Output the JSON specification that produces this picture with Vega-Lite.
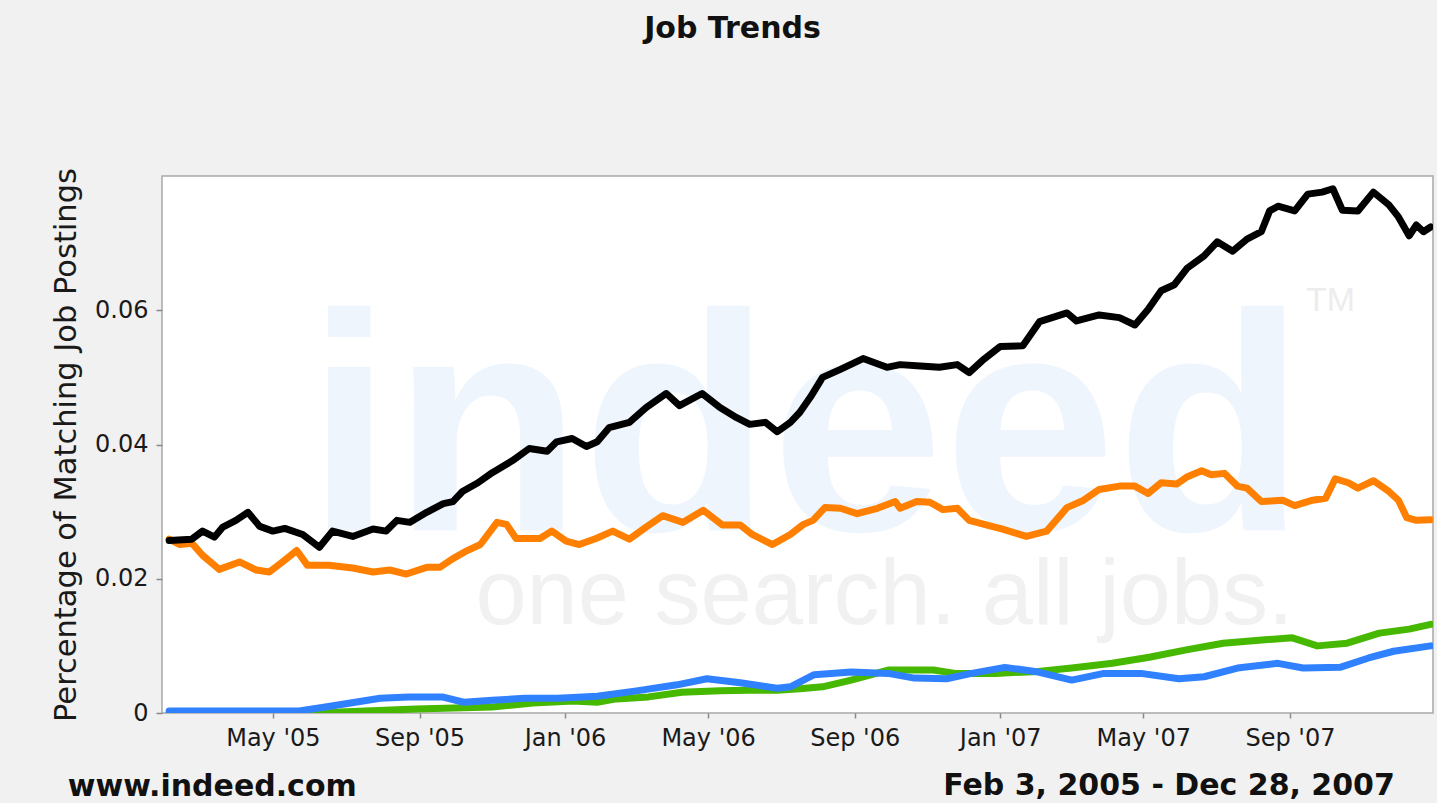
{
  "$schema": "https://vega.github.io/schema/vega-lite/v6.json",
  "autosize": {"type": "none"},
  "width": 1271,
  "height": 537,
  "padding": {"left": 162, "top": 176, "right": 4, "bottom": 90},
  "background": "#f1f1f1",
  "title": {"text": "Job Trends", "anchor": "middle", "frame": "group", "dx": -65, "offset": 100, "baseline": "alphabetic", "fontSize": 30, "fontWeight": "bold", "font": "DejaVu Sans", "color": "#111111"},
  "config": {
    "view": {"fill": "white", "stroke": "#a8a8a8", "strokeWidth": 1.5},
    "axis": {"grid": false, "domain": false, "tickColor": "#8a8a8a", "tickWidth": 1.5, "labelFont": "DejaVu Sans", "labelFontSize": 24, "labelColor": "#1a1a1a", "titleFont": "DejaVu Sans", "titleColor": "#1a1a1a"}
  },
  "data": {"values": [
    {"series":"s1","date":"2005-02-03","value":0.0},
    {"series":"s1","date":"2005-06-01","value":0.0},
    {"series":"s1","date":"2005-06-21","value":0.0001},
    {"series":"s1","date":"2005-08-29","value":0.0006},
    {"series":"s1","date":"2005-11-01","value":0.0009},
    {"series":"s1","date":"2005-12-05","value":0.0015},
    {"series":"s1","date":"2006-01-08","value":0.0018},
    {"series":"s1","date":"2006-01-28","value":0.0016},
    {"series":"s1","date":"2006-02-13","value":0.0021},
    {"series":"s1","date":"2006-03-12","value":0.0024},
    {"series":"s1","date":"2006-04-09","value":0.0031},
    {"series":"s1","date":"2006-05-11","value":0.0033},
    {"series":"s1","date":"2006-06-04","value":0.0034},
    {"series":"s1","date":"2006-06-28","value":0.0034},
    {"series":"s1","date":"2006-07-17","value":0.0036},
    {"series":"s1","date":"2006-08-05","value":0.0039},
    {"series":"s1","date":"2006-08-29","value":0.0049},
    {"series":"s1","date":"2006-09-29","value":0.0064},
    {"series":"s1","date":"2006-11-06","value":0.0064},
    {"series":"s1","date":"2006-11-24","value":0.0059},
    {"series":"s1","date":"2006-12-28","value":0.0059},
    {"series":"s1","date":"2007-02-02","value":0.0062},
    {"series":"s1","date":"2007-03-02","value":0.0067},
    {"series":"s1","date":"2007-04-05","value":0.0074},
    {"series":"s1","date":"2007-05-06","value":0.0083},
    {"series":"s1","date":"2007-06-06","value":0.0094},
    {"series":"s1","date":"2007-07-07","value":0.0104},
    {"series":"s1","date":"2007-08-11","value":0.0109},
    {"series":"s1","date":"2007-09-03","value":0.0112},
    {"series":"s1","date":"2007-09-24","value":0.0100},
    {"series":"s1","date":"2007-10-19","value":0.0104},
    {"series":"s1","date":"2007-11-15","value":0.0119},
    {"series":"s1","date":"2007-12-10","value":0.0125},
    {"series":"s1","date":"2007-12-28","value":0.0132},
    {"series":"s2","date":"2005-02-03","value":0.0003},
    {"series":"s2","date":"2005-05-23","value":0.0003},
    {"series":"s2","date":"2005-06-14","value":0.0009},
    {"series":"s2","date":"2005-07-09","value":0.0016},
    {"series":"s2","date":"2005-07-30","value":0.0022},
    {"series":"s2","date":"2005-08-23","value":0.0024},
    {"series":"s2","date":"2005-09-20","value":0.0024},
    {"series":"s2","date":"2005-10-08","value":0.0016},
    {"series":"s2","date":"2005-11-01","value":0.0019},
    {"series":"s2","date":"2005-11-28","value":0.0022},
    {"series":"s2","date":"2005-12-26","value":0.0022},
    {"series":"s2","date":"2006-01-28","value":0.0025},
    {"series":"s2","date":"2006-03-02","value":0.0033},
    {"series":"s2","date":"2006-04-05","value":0.0042},
    {"series":"s2","date":"2006-04-30","value":0.0051},
    {"series":"s2","date":"2006-05-28","value":0.0045},
    {"series":"s2","date":"2006-06-28","value":0.0037},
    {"series":"s2","date":"2006-07-09","value":0.0039},
    {"series":"s2","date":"2006-07-29","value":0.0057},
    {"series":"s2","date":"2006-08-29","value":0.0061},
    {"series":"s2","date":"2006-09-29","value":0.0059},
    {"series":"s2","date":"2006-10-21","value":0.0052},
    {"series":"s2","date":"2006-11-17","value":0.0051},
    {"series":"s2","date":"2006-12-08","value":0.0059},
    {"series":"s2","date":"2007-01-05","value":0.0068},
    {"series":"s2","date":"2007-02-02","value":0.0061},
    {"series":"s2","date":"2007-03-02","value":0.0049},
    {"series":"s2","date":"2007-03-29","value":0.0059},
    {"series":"s2","date":"2007-04-29","value":0.0059},
    {"series":"s2","date":"2007-05-31","value":0.0051},
    {"series":"s2","date":"2007-06-21","value":0.0054},
    {"series":"s2","date":"2007-07-19","value":0.0067},
    {"series":"s2","date":"2007-08-22","value":0.0074},
    {"series":"s2","date":"2007-09-12","value":0.0067},
    {"series":"s2","date":"2007-10-13","value":0.0068},
    {"series":"s2","date":"2007-11-06","value":0.0082},
    {"series":"s2","date":"2007-11-27","value":0.0092},
    {"series":"s2","date":"2007-12-28","value":0.0100},
    {"series":"s3","date":"2005-02-03","value":0.0259},
    {"series":"s3","date":"2005-02-12","value":0.0251},
    {"series":"s3","date":"2005-02-22","value":0.0253},
    {"series":"s3","date":"2005-03-03","value":0.0235},
    {"series":"s3","date":"2005-03-17","value":0.0214},
    {"series":"s3","date":"2005-04-03","value":0.0225},
    {"series":"s3","date":"2005-04-17","value":0.0213},
    {"series":"s3","date":"2005-04-28","value":0.0210},
    {"series":"s3","date":"2005-05-09","value":0.0225},
    {"series":"s3","date":"2005-05-21","value":0.0242},
    {"series":"s3","date":"2005-05-30","value":0.0220},
    {"series":"s3","date":"2005-06-17","value":0.0220},
    {"series":"s3","date":"2005-07-07","value":0.0216},
    {"series":"s3","date":"2005-07-24","value":0.0210},
    {"series":"s3","date":"2005-08-07","value":0.0213},
    {"series":"s3","date":"2005-08-21","value":0.0207},
    {"series":"s3","date":"2005-09-07","value":0.0217},
    {"series":"s3","date":"2005-09-18","value":0.0217},
    {"series":"s3","date":"2005-09-29","value":0.0230},
    {"series":"s3","date":"2005-10-11","value":0.0242},
    {"series":"s3","date":"2005-10-22","value":0.0251},
    {"series":"s3","date":"2005-11-05","value":0.0284},
    {"series":"s3","date":"2005-11-13","value":0.0281},
    {"series":"s3","date":"2005-11-21","value":0.0260},
    {"series":"s3","date":"2005-12-11","value":0.0260},
    {"series":"s3","date":"2005-12-21","value":0.0271},
    {"series":"s3","date":"2006-01-02","value":0.0256},
    {"series":"s3","date":"2006-01-13","value":0.0251},
    {"series":"s3","date":"2006-01-27","value":0.0260},
    {"series":"s3","date":"2006-02-10","value":0.0271},
    {"series":"s3","date":"2006-02-24","value":0.0259},
    {"series":"s3","date":"2006-03-10","value":0.0277},
    {"series":"s3","date":"2006-03-24","value":0.0294},
    {"series":"s3","date":"2006-04-10","value":0.0284},
    {"series":"s3","date":"2006-04-27","value":0.0302},
    {"series":"s3","date":"2006-05-13","value":0.0280},
    {"series":"s3","date":"2006-05-28","value":0.0280},
    {"series":"s3","date":"2006-06-07","value":0.0266},
    {"series":"s3","date":"2006-06-24","value":0.0251},
    {"series":"s3","date":"2006-07-09","value":0.0266},
    {"series":"s3","date":"2006-07-20","value":0.0281},
    {"series":"s3","date":"2006-07-28","value":0.0287},
    {"series":"s3","date":"2006-08-07","value":0.0306},
    {"series":"s3","date":"2006-08-20","value":0.0305},
    {"series":"s3","date":"2006-09-03","value":0.0297},
    {"series":"s3","date":"2006-09-20","value":0.0305},
    {"series":"s3","date":"2006-10-05","value":0.0315},
    {"series":"s3","date":"2006-10-09","value":0.0305},
    {"series":"s3","date":"2006-10-23","value":0.0315},
    {"series":"s3","date":"2006-11-03","value":0.0314},
    {"series":"s3","date":"2006-11-14","value":0.0303},
    {"series":"s3","date":"2006-11-26","value":0.0305},
    {"series":"s3","date":"2006-12-06","value":0.0287},
    {"series":"s3","date":"2006-12-21","value":0.0280},
    {"series":"s3","date":"2007-01-03","value":0.0274},
    {"series":"s3","date":"2007-01-23","value":0.0263},
    {"series":"s3","date":"2007-02-09","value":0.0271},
    {"series":"s3","date":"2007-02-26","value":0.0306},
    {"series":"s3","date":"2007-03-12","value":0.0317},
    {"series":"s3","date":"2007-03-25","value":0.0333},
    {"series":"s3","date":"2007-04-11","value":0.0338},
    {"series":"s3","date":"2007-04-24","value":0.0338},
    {"series":"s3","date":"2007-05-05","value":0.0327},
    {"series":"s3","date":"2007-05-16","value":0.0343},
    {"series":"s3","date":"2007-05-29","value":0.0341},
    {"series":"s3","date":"2007-06-07","value":0.0352},
    {"series":"s3","date":"2007-06-19","value":0.0361},
    {"series":"s3","date":"2007-06-27","value":0.0355},
    {"series":"s3","date":"2007-07-08","value":0.0357},
    {"series":"s3","date":"2007-07-19","value":0.0338},
    {"series":"s3","date":"2007-07-27","value":0.0335},
    {"series":"s3","date":"2007-08-08","value":0.0315},
    {"series":"s3","date":"2007-08-26","value":0.0317},
    {"series":"s3","date":"2007-09-05","value":0.0309},
    {"series":"s3","date":"2007-09-20","value":0.0317},
    {"series":"s3","date":"2007-10-01","value":0.0320},
    {"series":"s3","date":"2007-10-09","value":0.0349},
    {"series":"s3","date":"2007-10-20","value":0.0343},
    {"series":"s3","date":"2007-10-28","value":0.0335},
    {"series":"s3","date":"2007-11-10","value":0.0346},
    {"series":"s3","date":"2007-11-23","value":0.0330},
    {"series":"s3","date":"2007-12-01","value":0.0317},
    {"series":"s3","date":"2007-12-08","value":0.0291},
    {"series":"s3","date":"2007-12-16","value":0.0287},
    {"series":"s3","date":"2007-12-28","value":0.0288},
    {"series":"s4","date":"2005-02-03","value":0.0257},
    {"series":"s4","date":"2005-02-22","value":0.0259},
    {"series":"s4","date":"2005-03-03","value":0.0271},
    {"series":"s4","date":"2005-03-13","value":0.0262},
    {"series":"s4","date":"2005-03-20","value":0.0277},
    {"series":"s4","date":"2005-03-31","value":0.0287},
    {"series":"s4","date":"2005-04-10","value":0.0299},
    {"series":"s4","date":"2005-04-20","value":0.0278},
    {"series":"s4","date":"2005-05-01","value":0.0271},
    {"series":"s4","date":"2005-05-11","value":0.0275},
    {"series":"s4","date":"2005-05-26","value":0.0266},
    {"series":"s4","date":"2005-06-09","value":0.0247},
    {"series":"s4","date":"2005-06-20","value":0.0271},
    {"series":"s4","date":"2005-07-07","value":0.0263},
    {"series":"s4","date":"2005-07-24","value":0.0274},
    {"series":"s4","date":"2005-08-04","value":0.0271},
    {"series":"s4","date":"2005-08-13","value":0.0287},
    {"series":"s4","date":"2005-08-24","value":0.0284},
    {"series":"s4","date":"2005-09-07","value":0.0299},
    {"series":"s4","date":"2005-09-21","value":0.0312},
    {"series":"s4","date":"2005-09-29","value":0.0315},
    {"series":"s4","date":"2005-10-07","value":0.0330},
    {"series":"s4","date":"2005-10-20","value":0.0343},
    {"series":"s4","date":"2005-11-01","value":0.0358},
    {"series":"s4","date":"2005-11-18","value":0.0376},
    {"series":"s4","date":"2005-12-02","value":0.0394},
    {"series":"s4","date":"2005-12-17","value":0.0390},
    {"series":"s4","date":"2005-12-25","value":0.0404},
    {"series":"s4","date":"2006-01-07","value":0.0409},
    {"series":"s4","date":"2006-01-19","value":0.0397},
    {"series":"s4","date":"2006-01-28","value":0.0404},
    {"series":"s4","date":"2006-02-07","value":0.0425},
    {"series":"s4","date":"2006-02-24","value":0.0433},
    {"series":"s4","date":"2006-03-10","value":0.0455},
    {"series":"s4","date":"2006-03-27","value":0.0476},
    {"series":"s4","date":"2006-04-07","value":0.0458},
    {"series":"s4","date":"2006-04-26","value":0.0476},
    {"series":"s4","date":"2006-05-11","value":0.0455},
    {"series":"s4","date":"2006-05-25","value":0.0440},
    {"series":"s4","date":"2006-06-05","value":0.0430},
    {"series":"s4","date":"2006-06-18","value":0.0433},
    {"series":"s4","date":"2006-06-28","value":0.0419},
    {"series":"s4","date":"2006-07-09","value":0.0433},
    {"series":"s4","date":"2006-07-17","value":0.0448},
    {"series":"s4","date":"2006-07-26","value":0.0471},
    {"series":"s4","date":"2006-08-05","value":0.0500},
    {"series":"s4","date":"2006-08-20","value":0.0512},
    {"series":"s4","date":"2006-09-08","value":0.0528},
    {"series":"s4","date":"2006-09-28","value":0.0515},
    {"series":"s4","date":"2006-10-09","value":0.0519},
    {"series":"s4","date":"2006-10-26","value":0.0517},
    {"series":"s4","date":"2006-11-11","value":0.0515},
    {"series":"s4","date":"2006-11-26","value":0.0519},
    {"series":"s4","date":"2006-12-06","value":0.0507},
    {"series":"s4","date":"2006-12-17","value":0.0525},
    {"series":"s4","date":"2007-01-01","value":0.0546},
    {"series":"s4","date":"2007-01-20","value":0.0547},
    {"series":"s4","date":"2007-02-03","value":0.0583},
    {"series":"s4","date":"2007-02-26","value":0.0596},
    {"series":"s4","date":"2007-03-06","value":0.0584},
    {"series":"s4","date":"2007-03-25","value":0.0593},
    {"series":"s4","date":"2007-04-11","value":0.0589},
    {"series":"s4","date":"2007-04-24","value":0.0578},
    {"series":"s4","date":"2007-05-05","value":0.0601},
    {"series":"s4","date":"2007-05-16","value":0.0629},
    {"series":"s4","date":"2007-05-27","value":0.0638},
    {"series":"s4","date":"2007-06-07","value":0.0663},
    {"series":"s4","date":"2007-06-21","value":0.0681},
    {"series":"s4","date":"2007-07-02","value":0.0702},
    {"series":"s4","date":"2007-07-15","value":0.0688},
    {"series":"s4","date":"2007-07-27","value":0.0706},
    {"series":"s4","date":"2007-08-08","value":0.0717},
    {"series":"s4","date":"2007-08-15","value":0.0748},
    {"series":"s4","date":"2007-08-22","value":0.0755},
    {"series":"s4","date":"2007-09-05","value":0.0748},
    {"series":"s4","date":"2007-09-16","value":0.0773},
    {"series":"s4","date":"2007-09-28","value":0.0776},
    {"series":"s4","date":"2007-10-07","value":0.0781},
    {"series":"s4","date":"2007-10-15","value":0.0749},
    {"series":"s4","date":"2007-10-28","value":0.0748},
    {"series":"s4","date":"2007-11-10","value":0.0776},
    {"series":"s4","date":"2007-11-23","value":0.0757},
    {"series":"s4","date":"2007-12-01","value":0.0739},
    {"series":"s4","date":"2007-12-10","value":0.0711},
    {"series":"s4","date":"2007-12-16","value":0.0727},
    {"series":"s4","date":"2007-12-22","value":0.0717},
    {"series":"s4","date":"2007-12-28","value":0.0724}
  ]},
  "layer": [
    {
      "data": {"values": [{}]},
      "mark": {"type": "text", "text": "indeed", "font": "Liberation Sans", "fontWeight": "bold", "fontSize": 310, "color": "#eff5fd", "align": "center", "baseline": "alphabetic"},
      "encoding": {
        "x": {"datum": {"year": 2006, "month": 7, "date": 22, "utc": true}, "type": "temporal", "scale": {"type": "utc", "domain": [{"year": 2005, "month": 1, "date": 28, "utc": true}, {"year": 2007, "month": 12, "date": 30, "utc": true}]}},
        "y": {"datum": 0.0272, "type": "quantitative", "scale": {"domain": [0, 0.08], "nice": false}}
      }
    },
    {
      "data": {"values": [{}]},
      "mark": {"type": "text", "text": "one search. all jobs.", "font": "Liberation Sans", "fontSize": 92, "color": "#f1f1f1", "align": "center", "baseline": "alphabetic"},
      "encoding": {
        "x": {"datum": {"year": 2006, "month": 9, "date": 26, "utc": true}, "type": "temporal"},
        "y": {"datum": 0.0132, "type": "quantitative"}
      }
    },
    {
      "data": {"values": [{}]},
      "mark": {"type": "text", "text": "TM", "font": "Liberation Sans", "fontSize": 34, "color": "#ededed", "align": "center", "baseline": "alphabetic"},
      "encoding": {
        "x": {"datum": {"year": 2007, "month": 10, "date": 5, "utc": true}, "type": "temporal"},
        "y": {"datum": 0.0599, "type": "quantitative"}
      }
    },
    {
      "mark": {"type": "line", "strokeWidth": 7, "strokeJoin": "round", "strokeCap": "round", "clip": true},
      "encoding": {
        "x": {"field": "date", "type": "temporal",
          "scale": {"type": "utc", "domain": [{"year": 2005, "month": 1, "date": 28, "utc": true}, {"year": 2007, "month": 12, "date": 30, "utc": true}]},
          "axis": {"values": [
            {"year": 2005, "month": 5, "date": 1, "utc": true},
            {"year": 2005, "month": 9, "date": 1, "utc": true},
            {"year": 2006, "month": 1, "date": 1, "utc": true},
            {"year": 2006, "month": 5, "date": 1, "utc": true},
            {"year": 2006, "month": 9, "date": 1, "utc": true},
            {"year": 2007, "month": 1, "date": 1, "utc": true},
            {"year": 2007, "month": 5, "date": 1, "utc": true},
            {"year": 2007, "month": 9, "date": 1, "utc": true}],
            "format": "%b '%y", "tickSize": 5, "labelPadding": 8, "labelFlush": false, "labelOverlap": false, "title": null}},
        "y": {"field": "value", "type": "quantitative",
          "scale": {"domain": [0, 0.08], "nice": false},
          "axis": {"values": [0, 0.02, 0.04, 0.06], "format": ".2~f", "tickSize": 6, "labelPadding": 8,
            "title": "Percentage of Matching Job Postings", "titleFontSize": 30.5, "titleFontWeight": "normal", "titlePadding": 13}},
        "color": {"field": "series", "type": "nominal",
          "scale": {"domain": ["s1", "s2", "s3", "s4"], "range": ["#47b800", "#3081ff", "#ff8000", "#000000"]},
          "legend": null}
      }
    },
    {
      "data": {"values": [{}]},
      "mark": {"type": "text", "text": "www.indeed.com", "font": "DejaVu Sans", "fontWeight": "bold", "fontSize": 30, "color": "#111111", "align": "left", "baseline": "alphabetic"},
      "encoding": {
        "x": {"datum": {"year": 2004, "month": 11, "date": 10, "utc": true}, "type": "temporal"},
        "y": {"datum": -0.0124, "type": "quantitative"}
      }
    },
    {
      "data": {"values": [{}]},
      "mark": {"type": "text", "text": "Feb 3, 2005 - Dec 28, 2007", "font": "DejaVu Sans", "fontWeight": "bold", "fontSize": 30, "color": "#111111", "align": "right", "baseline": "alphabetic"},
      "encoding": {
        "x": {"datum": {"year": 2007, "month": 11, "date": 28, "utc": true}, "type": "temporal"},
        "y": {"datum": -0.0122, "type": "quantitative"}
      }
    }
  ]
}
